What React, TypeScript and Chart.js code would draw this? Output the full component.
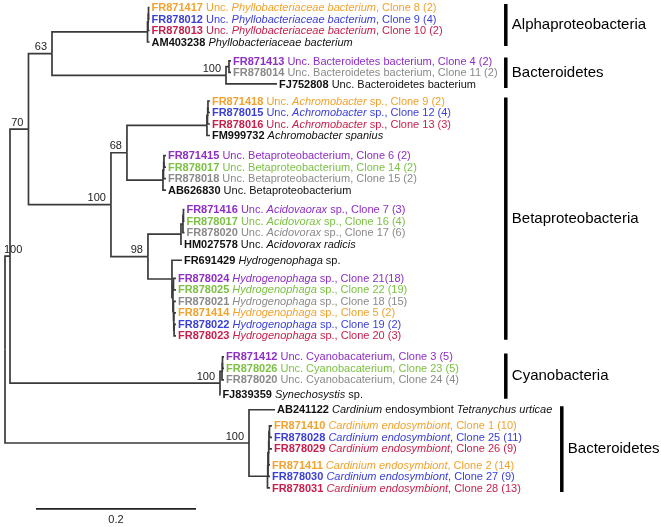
import React, { useEffect, useRef } from "react";
import { Chart, registerables } from "chart.js";

Chart.register(...registerables);

// ---------- DATA ----------
const LEAF_IDS = [
  "FR871417", "FR878012", "FR878013", "AM403238",
  "FR871413", "FR878014", "FJ752808",
  "FR871418", "FR878015", "FR878016", "FM999732",
  "FR871415", "FR878017", "FR878018", "AB626830",
  "FR871416", "FR878017", "FR878020", "HM027578",
  "FR691429",
  "FR878024", "FR878025", "FR878021", "FR871414", "FR878022", "FR878023",
  "FR871412", "FR878026", "FR878020", "FJ839359",
  "AB241122",
  "FR871410", "FR878028", "FR878029",
  "FR871411", "FR878030", "FR878031",
];

// "_" toggles italics
const LEAF_DESCS = [
  "Unc. _Phyllobacteriaceae bacterium_, Clone 8 (2)",
  "Unc. _Phyllobacteriaceae bacterium_, Clone 9 (4)",
  "Unc. _Phyllobacteriaceae bacterium_, Clone 10 (2)",
  "_Phyllobacteriaceae bacterium_",
  "Unc. Bacteroidetes bacterium, Clone 4 (2)",
  "Unc. Bacteroidetes bacterium, Clone 11 (2)",
  "Unc. Bacteroidetes bacterium",
  "Unc. _Achromobacter_ sp., Clone 9 (2)",
  "Unc. _Achromobacter_ sp., Clone 12 (4)",
  "Unc. _Achromobacter_ sp., Clone 13 (3)",
  "_Achromobacter spanius_",
  "Unc. Betaproteobacterium, Clone 6 (2)",
  "Unc. Betaproteobacterium, Clone 14 (2)",
  "Unc. Betaproteobacterium, Clone 15 (2)",
  "Unc. Betaproteobacterium",
  "Unc. _Acidovaorax_ sp., Clone 7 (3)",
  "Unc. _Acidovorax_ sp., Clone 16 (4)",
  "Unc. _Acidovorax_ sp., Clone 17 (6)",
  "Unc. _Acidovorax radicis_",
  "_Hydrogenophaga_ sp.",
  "_Hydrogenophaga_ sp., Clone 21(18)",
  "_Hydrogenophaga_ sp., Clone 22 (19)",
  "_Hydrogenophaga_ sp., Clone 18 (15)",
  "_Hydrogenophaga_ sp., Clone 5 (2)",
  "_Hydrogenophaga_ sp., Clone 19 (2)",
  "_Hydrogenophaga_ sp., Clone 20 (3)",
  "Unc. Cyanobacaterium, Clone 3 (5)",
  "Unc. Cyanobacaterium, Clone 23 (5)",
  "Unc. Cyanobacaterium, Clone 24 (4)",
  "_Synechosystis_ sp.",
  "_Cardinium_ endosymbiont _Tetranychus urticae_",
  "_Cardinium endosymbiont_, Clone 1 (10)",
  "_Cardinium endosymbiont_, Clone 25 (11)",
  "_Cardinium endosymbiont_, Clone 26 (9)",
  "_Cardinium endosymbiont_, Clone 2 (14)",
  "_Cardinium endosymbiont_, Clone 27 (9)",
  "_Cardinium endosymbiont_, Clone 28 (13)",
];

const LEAF_GROUPS = [
  "orange", "blue", "red", "black",
  "purple", "grey", "black",
  "orange", "blue", "red", "black",
  "purple", "green", "grey", "black",
  "purple", "green", "grey", "black",
  "black",
  "purple", "green", "grey", "orange", "blue", "red",
  "purple", "green", "grey", "black",
  "black",
  "orange", "blue", "red",
  "orange", "blue", "red",
];

// extra vertical spacing (in rows) before a given leaf index
const ROW_GAPS: [number, number][] = [
  [4, 0.65], [7, 0.48], [11, 0.75], [15, 0.7], [19, 0.4], [20, 0.57],
  [26, 0.83], [29, 0.3], [30, 0.3], [31, 0.4], [34, 0.4],
];

// Tree with branch lengths (substitutions/site) and bootstrap support
const TREE_NEWICK = `(
 (
  (
   (
    (((L0:0.00125,L1:0.00125):0.000625,L2:0.0019):0.000625,L3:0.0025):0.1194,
    ((L4:0.0025,L5:0.0025):0.00375,L6:0.0638)100:0.2175
   )63:0.0294,
   (
    (
     (((L7:0.0025,L8:0.0025):0.000625,L9:0.0031):0.000625,L10:0.00375):0.1,
     (((L11:0.0025,L12:0.0025):0.000625,L13:0.0031):0.000625,L14:0.00375):0.045
    )68:0.02,
    (
     (((L15:0.00125,L16:0.00125):0.000625,L17:0.0019):0.0025,L18:0.00125):0.04125,
     (L19:0.0125,((L20:0.0031,L21:0.0031):0.000625,(L22:0.0031,(L23:0.00275,(L24:0.0024,L25:0.0024):0.0004):0.0004):0.000625):0.00125):0.03
    )98:0.04625
   )100:0.1031
  )70:0.0231,
  (((L26:0.0019,L27:0.0019):0.000625,L28:0.0025):0.0025,L29:0.0005)100:0.2625
 )100:0.00625,
 (L30:0.0325,(((((L31:0.0031,L32:0.0031):0.000625,L33:0.00375):0.000625,L34:0.0019):0.000625,L35:0.0025):0.000625,L36:0.0031):0.0231)100:0.305
);`;

const CLADE_NAMES = ["Alphaproteobacteria", "Bacteroidetes", "Betaproteobacteria", "Cyanobacteria", "Bacteroidetes"];
const CLADE_FIRST = [0, 4, 7, 26, 30];
const CLADE_LAST = [3, 6, 25, 29, 36];
const CLADE_BAR_X = [0.626, 0.626, 0.626, 0.626, 0.696];

const SCALE_BAR_START = 0.03875;
const SCALE_BAR_LENGTH = 0.2;
const SCALE_BAR_LABEL = "0.2";

// ---------- STYLE ----------
const COLORS: Record<string, string> = {
  orange: "#F2A22E",
  blue: "#3B3FD6",
  red: "#C71F4B",
  purple: "#8E2EC4",
  green: "#7CC143",
  grey: "#8A8A8A",
  black: "#111111",
};
const FONT = '"Liberation Sans", Arial, Helvetica, sans-serif';
const LEAF_FONT_SIZE = 11;

// ---------- TREE HELPERS ----------
type TNode = { children: TNode[]; label: string; length: number; x: number; y: number };

function parseNewick(src: string): TNode {
  const s = src.replace(/\s+/g, "");
  let i = 0;
  function parseNode(): TNode {
    const node: TNode = { children: [], label: "", length: 0, x: 0, y: 0 };
    if (s[i] === "(") {
      i++;
      node.children.push(parseNode());
      while (s[i] === ",") {
        i++;
        node.children.push(parseNode());
      }
      i++;
    }
    let lab = "";
    while (i < s.length && !",():;".includes(s[i])) lab += s[i++];
    node.label = lab;
    if (s[i] === ":") {
      i++;
      let num = "";
      while (i < s.length && !",();".includes(s[i])) num += s[i++];
      node.length = parseFloat(num);
    }
    return node;
  }
  return parseNode();
}

function rowPositions(): number[] {
  const gap = new Map(ROW_GAPS);
  const rows: number[] = [];
  let acc = 0;
  for (let i = 0; i < LEAF_IDS.length; i++) {
    acc += gap.get(i) || 0;
    rows.push(i + acc);
  }
  return rows;
}

function layoutTree(node: TNode, x0: number, rows: number[]) {
  node.x = x0 + node.length;
  if (node.children.length === 0) {
    node.y = rows[parseInt(node.label.slice(1), 10)];
  } else {
    node.children.forEach((c) => layoutTree(c, node.x, rows));
    node.y = (node.children[0].y + node.children[node.children.length - 1].y) / 2;
  }
}

function collect(node: TNode, out: TNode[]) {
  out.push(node);
  node.children.forEach((c) => collect(c, out));
}

export default function App() {
  const ref = useRef<HTMLCanvasElement>(null);

  useEffect(() => {
    if (!ref.current) return;
    const rows = rowPositions();
    const root = parseNewick(TREE_NEWICK);
    layoutTree(root, 0, rows);
    const all: TNode[] = [];
    collect(root, all);
    const internals = all.filter((n) => n.children.length > 0);
    const leaves = all.filter((n) => n.children.length === 0);

    const branchStyle = {
      type: "line" as const,
      showLine: true,
      borderColor: "#3a3a3a",
      borderWidth: 1.7,
      pointRadius: 0,
      borderJoinStyle: "miter" as const,
      borderCapStyle: "butt" as const,
      fill: false,
    };
    const datasets: any[] = [];
    internals.forEach((n) => {
      n.children.forEach((c) => {
        datasets.push({
          ...branchStyle,
          data: [
            { x: n.x, y: n.y },
            { x: n.x, y: c.y },
            { x: c.x, y: c.y },
          ],
        });
      });
    });
    // clade bars
    CLADE_NAMES.forEach((_, k) => {
      datasets.push({
        ...branchStyle,
        borderColor: "#000",
        borderWidth: 3.5,
        data: [
          { x: CLADE_BAR_X[k], y: rows[CLADE_FIRST[k]] - 0.3 },
          { x: CLADE_BAR_X[k], y: rows[CLADE_LAST[k]] + 0.35 },
        ],
      });
    });
    const lastRow = rows[rows.length - 1];
    const scaleRow = lastRow + 1.82;
    datasets.push({
      ...branchStyle,
      borderColor: "#222",
      borderWidth: 1.6,
      data: [
        { x: SCALE_BAR_START, y: scaleRow },
        { x: SCALE_BAR_START + SCALE_BAR_LENGTH, y: scaleRow },
      ],
    });

    const textPlugin = {
      id: "treeText",
      afterDatasetsDraw(chart: any) {
        const ctx: CanvasRenderingContext2D = chart.ctx;
        const xs = chart.scales.x;
        const ys = chart.scales.y;
        ctx.save();
        ctx.textBaseline = "middle";
        // leaf labels
        leaves.forEach((lf) => {
          const idx = parseInt(lf.label.slice(1), 10);
          const color = COLORS[LEAF_GROUPS[idx]];
          let px = xs.getPixelForValue(lf.x) + 2;
          const py = ys.getPixelForValue(lf.y) + 0.5;
          ctx.fillStyle = color;
          ctx.textAlign = "left";
          ctx.font = `bold ${LEAF_FONT_SIZE}px ${FONT}`;
          ctx.fillText(LEAF_IDS[idx], px, py);
          px += ctx.measureText(LEAF_IDS[idx]).width;
          ctx.font = `${LEAF_FONT_SIZE}px ${FONT}`;
          px += ctx.measureText(" ").width;
          const parts = LEAF_DESCS[idx].split("_");
          parts.forEach((p, j) => {
            if (!p) return;
            ctx.font = `${j % 2 === 1 ? "italic " : ""}${LEAF_FONT_SIZE}px ${FONT}`;
            ctx.fillText(p, px, py);
            px += ctx.measureText(p).width;
          });
        });
        // bootstrap values
        ctx.fillStyle = "#222";
        ctx.font = `11px ${FONT}`;
        internals.forEach((n) => {
          if (!n.label) return;
          const w = ctx.measureText(n.label).width;
          let left = xs.getPixelForValue(n.x) - 5 - w;
          if (left < 4) left = 4;
          ctx.textAlign = "left";
          ctx.fillText(n.label, left, ys.getPixelForValue(n.y) - 6.5);
        });
        // clade names
        ctx.fillStyle = "#000";
        ctx.font = `15px ${FONT}`;
        CLADE_NAMES.forEach((name, k) => {
          const mid = (rows[CLADE_FIRST[k]] - 0.3 + rows[CLADE_LAST[k]] + 0.35) / 2;
          ctx.fillText(name, xs.getPixelForValue(CLADE_BAR_X[k]) + 6, ys.getPixelForValue(mid));
        });
        // scale bar label
        ctx.fillStyle = "#222";
        ctx.font = `11px ${FONT}`;
        ctx.textAlign = "center";
        ctx.fillText(
          SCALE_BAR_LABEL,
          xs.getPixelForValue(SCALE_BAR_START + SCALE_BAR_LENGTH / 2),
          ys.getPixelForValue(scaleRow + 0.95)
        );
        ctx.restore();
      },
    };

    const chart = new Chart(ref.current, {
      type: "scatter",
      data: { datasets },
      options: {
        responsive: false,
        maintainAspectRatio: false,
        animation: false,
        devicePixelRatio: 1,
        layout: { padding: 0 },
        plugins: { legend: { display: false }, tooltip: { enabled: false } },
        scales: {
          x: { type: "linear", display: false, min: -0.00625, max: 0.82 },
          y: { type: "linear", display: false, reverse: true, min: -0.652, max: 45.174 },
        },
      },
      plugins: [textPlugin],
    } as any);
    return () => chart.destroy();
  }, []);

  return (
    <div style={{ position: "fixed", left: 0, top: 0, width: 661, height: 527, background: "#fff" }}>
      <canvas ref={ref} width={661} height={527} style={{ display: "block" }} />
    </div>
  );
}
